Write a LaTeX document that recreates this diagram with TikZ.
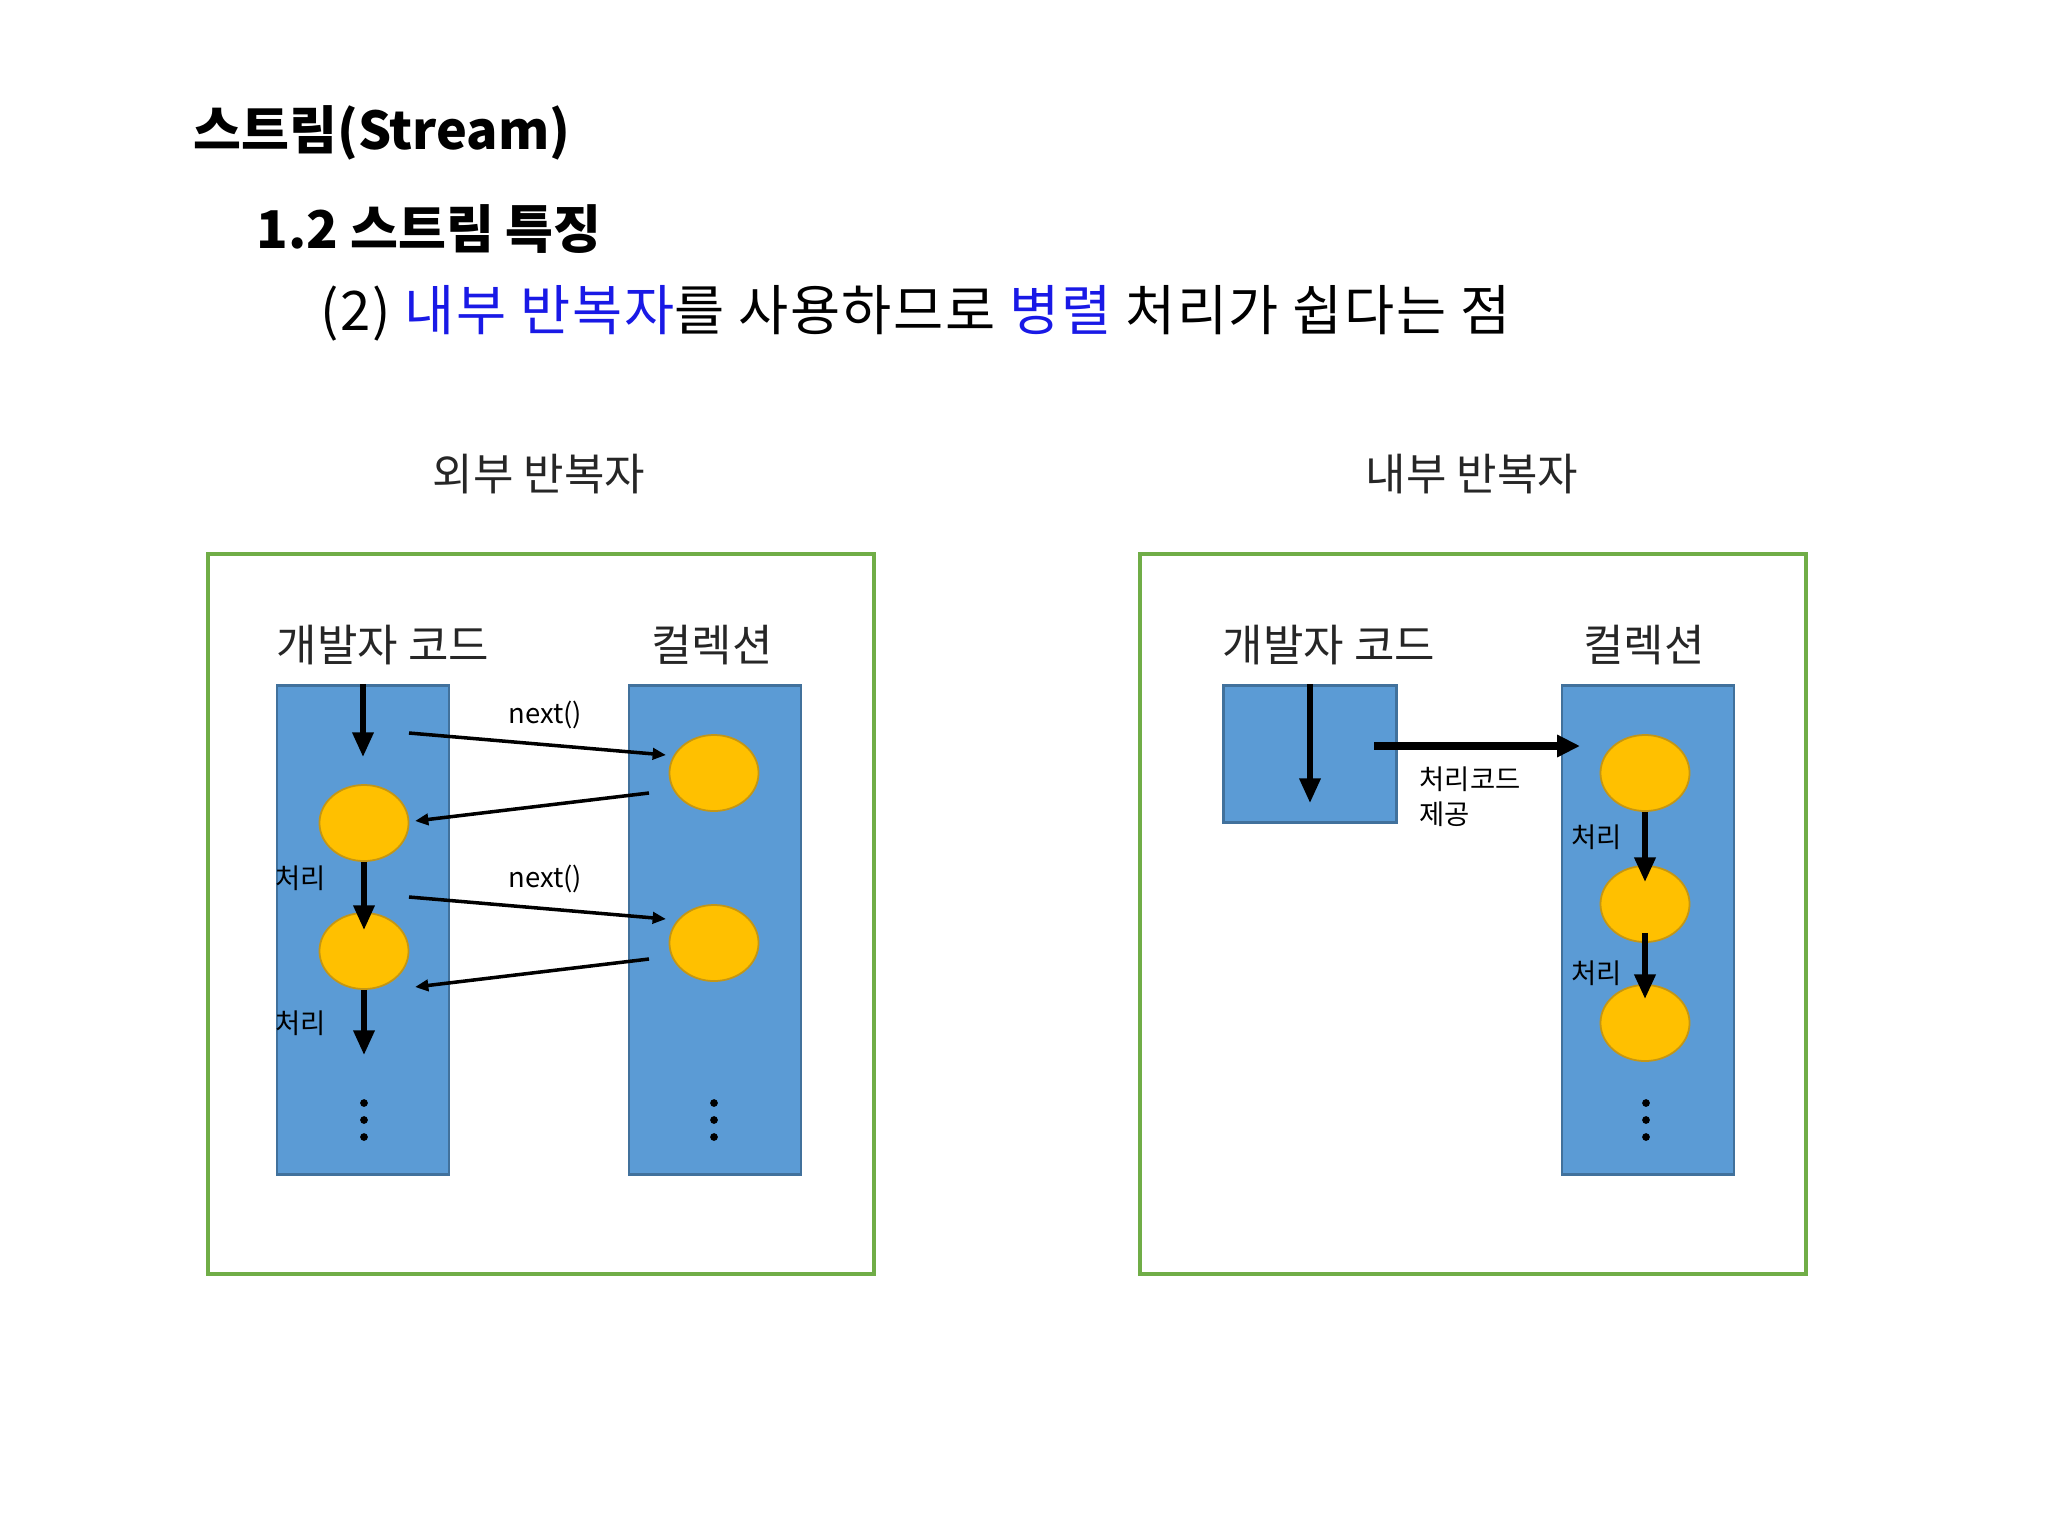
\documentclass[tikz,border=0pt]{standalone}
\usepackage{fontspec}
\setmainfont{Noto Sans CJK KR}
\usetikzlibrary{arrows.meta,calc,positioning,shapes.geometric}
\definecolor{boxblue}{RGB}{91,155,213}
\definecolor{boxedge}{RGB}{65,113,156}
\definecolor{itemyellow}{RGB}{255,192,0}
\definecolor{itemedge}{RGB}{196,150,20}
\definecolor{framegreen}{RGB}{112,173,71}
\definecolor{keyblue}{RGB}{25,25,230}

\begin{document}
\begin{tikzpicture}[x=0.01cm,y=-0.01cm,
	heading/.style={anchor=west,inner sep=0pt,font=\fontsize{14.8pt}{17pt}\selectfont},
	caption/.style={text=black!85,font=\fontsize{12.5pt}{15pt}\selectfont},
	colhead/.style={text=black!85,font=\fontsize{12.5pt}{15pt}\selectfont},
	note/.style={inner sep=0pt,font=\fontsize{7.8pt}{9.9pt}\selectfont},
	panelframe/.style={draw=framegreen,line width=1.3pt},
	column/.style={draw=boxedge,fill=boxblue,line width=0.8pt,minimum width=1.72cm,inner sep=0pt},
	item/.style={ellipse,draw=itemedge,fill=itemyellow,line width=0.5pt,minimum width=0.89cm,minimum height=0.76cm,inner sep=0pt},
	flow/.style={line width=1.5pt,-{Triangle[length=7pt,width=5.8pt]}},
	call/.style={line width=1pt,-{Triangle[length=3.8pt,width=3.2pt]}},
	hand/.style={line width=2.2pt,-{Triangle[length=6.5pt,width=6pt]}}]
	\useasboundingbox (0,0) rectangle (2048,1536);
	% headings
	\node[heading] (title) at (193,133) {\bfseries 스트림(Stream)};
	\node[heading] (sub) at (256,229) {\bfseries 1.2 스트림 특징};
	\node[heading,font=\fontsize{15.5pt}{18pt}\selectfont\addfontfeatures{LetterSpace=3}] (point) at (320,313) {(2) \textcolor{keyblue}{내부 반복자}를 사용하므로 \textcolor{keyblue}{병렬} 처리가 쉽다는 점};
	% external iterator
	\node[caption] (outer) at (539,474) {외부 반복자};
	\draw[panelframe] (208,554) rectangle (874,1274);
	\node[colhead] (devL) at (383,645) {개발자 코드};
	\node[colhead] (colL) at (712,645) {컬렉션};
	\node[column,minimum height=4.89cm] (codeL) at (363,930) {};
	\node[column,minimum height=4.89cm] (listL) at (715,930) {};
	\node[item] (c1) at (364,823) {};
	\node[item] (c2) at (364,951) {};
	\node[item] (r1) at (714,773) {};
	\node[item] (r2) at (714,943) {};
	\coordinate (a1) at (363,757);
	\coordinate (a2) at (364,930);
	\coordinate (a3) at (364,1055);
	\coordinate (q1) at (409,733);
	\coordinate (q2) at (666,755);
	\coordinate (g1) at (649,793);
	\coordinate (g2) at (415,821);
	\coordinate (q3) at (409,897);
	\coordinate (q4) at (666,919);
	\coordinate (g3) at (649,959);
	\coordinate (g4) at (415,987);
	\draw[flow] (codeL.north) -- (a1);
	\draw[flow] (c1.south) -- (a2);
	\draw[flow] (c2.south) -- (a3);
	\draw[call] (q1) -- node[note,pos=0.53,above=4pt] (n1) {next()} (q2);
	\draw[call] (g1) -- (g2);
	\draw[call] (q3) -- node[note,pos=0.53,above=4pt] (n2) {next()} (q4);
	\draw[call] (g3) -- (g4);
	\node[note,anchor=west] (s1) at (275,878) {처리};
	\node[note,anchor=west] (s2) at (275,1023) {처리};
	\foreach \y in {1103,1120,1137} {
		\fill (364,\y) circle[radius=1.1pt];
		\fill (714,\y) circle[radius=1.1pt];
	}
	% internal iterator
	\node[caption] (inner) at (1472,474) {내부 반복자};
	\draw[panelframe] (1140,554) rectangle (1806,1274);
	\node[colhead] (devR) at (1329,645) {개발자 코드};
	\node[colhead] (colR) at (1644,645) {컬렉션};
	\node[column,minimum width=1.73cm,minimum height=1.37cm] (codeR) at (1310,754) {};
	\node[column,minimum height=4.89cm] (listR) at (1648,930) {};
	\node[item] (p1) at (1645,773) {};
	\node[item] (p2) at (1645,904) {};
	\node[item] (p3) at (1645,1023) {};
	\coordinate (b1) at (1310,803);
	\coordinate (h1) at (1374,746);
	\coordinate (h2) at (1580,746);
	\coordinate (b2) at (1645,882);
	\coordinate (b3) at (1645,999);
	\draw[flow] (codeR.north) -- (b1);
	\draw[hand] (h1) -- (h2);
	\node[note,anchor=north west,align=left] (give) at (1419,766) {처리코드\\제공};
	\draw[flow,line width=1.6pt] (p1.south) -- (b2);
	\draw[flow,line width=1.6pt] ($(p2.south)+(0,-10)$) -- (b3);
	\node[note,anchor=west] (s3) at (1571,837) {처리};
	\node[note,anchor=west] (s4) at (1571,973) {처리};
	\foreach \y in {1103,1120,1137}
		\fill (1646,\y) circle[radius=1.1pt];
\end{tikzpicture}
\end{document}
